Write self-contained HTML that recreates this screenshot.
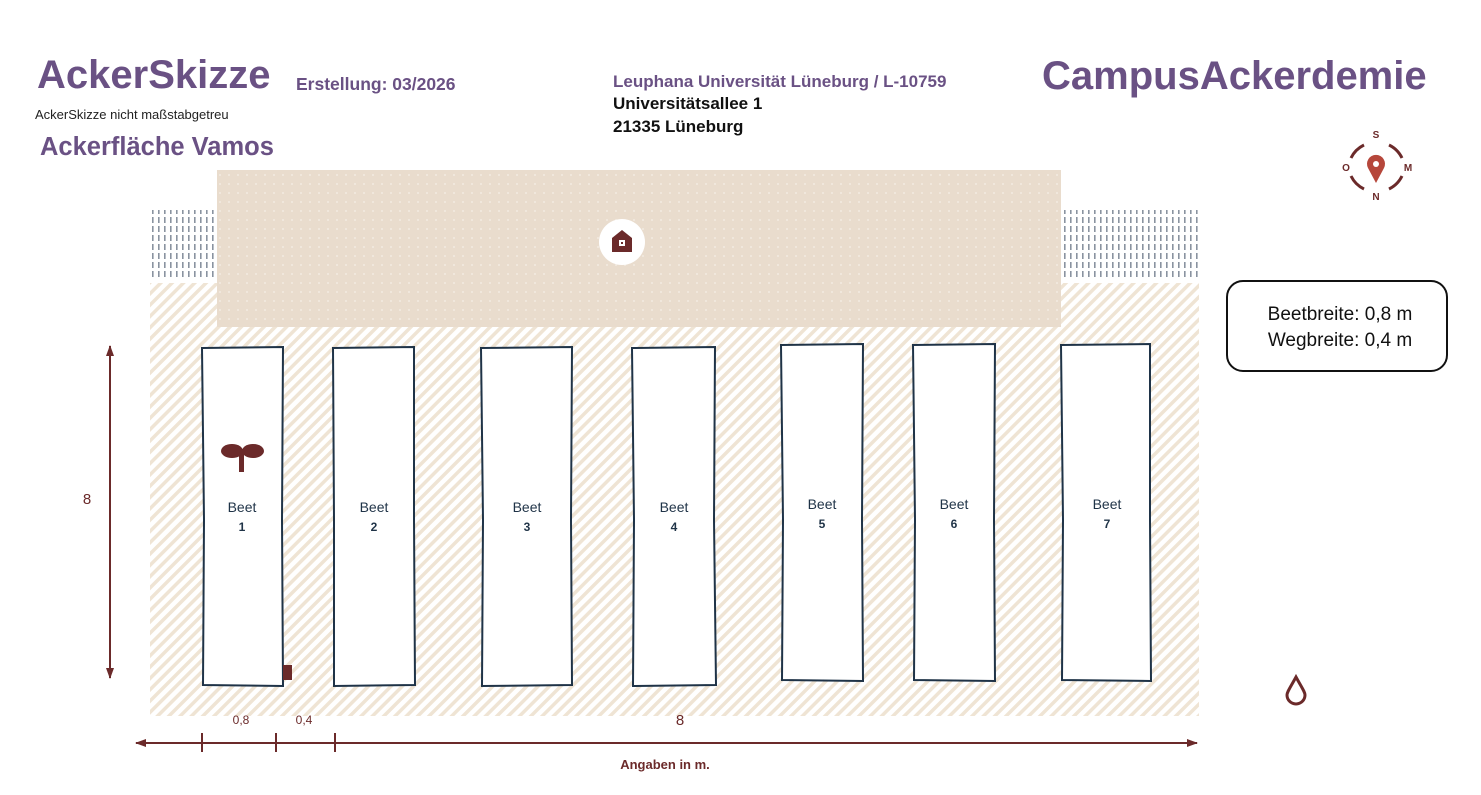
<!DOCTYPE html>
<html><head><meta charset="utf-8"><style>
body{margin:0;width:1481px;height:795px;background:#fff;position:relative;overflow:hidden;font-family:"Liberation Sans",sans-serif}
.t{position:absolute;white-space:nowrap}
.p{color:#6a5184;font-weight:bold}
</style></head><body>
<div class="t p" style="left:37px;top:53px;font-size:40px">AckerSkizze</div>
<div class="t p" style="left:296px;top:74px;font-size:17.5px">Erstellung: 03/2026</div>
<div class="t" style="left:35px;top:107px;font-size:13px;color:#222">AckerSkizze nicht maßstabgetreu</div>
<div class="t p" style="left:40px;top:133px;font-size:25.5px">Ackerfläche Vamos</div>
<div class="t p" style="left:613px;top:72px;font-size:17px">Leuphana Universität Lüneburg / L-10759</div>
<div class="t" style="left:613px;top:94px;font-size:17px;font-weight:bold;color:#111">Universitätsallee 1</div>
<div class="t" style="left:613px;top:117px;font-size:17px;font-weight:bold;color:#111">21335 Lüneburg</div>
<div class="t p" style="left:1042px;top:54px;font-size:40px">CampusAckerdemie</div>
<svg width="1481" height="795" style="position:absolute;left:0;top:0">
<defs>
<pattern id="h" width="8" height="8" patternUnits="userSpaceOnUse" patternTransform="rotate(45)"><rect width="8" height="8" fill="#fff"/><rect width="3.5" height="8" fill="#efe4d4"/></pattern>
<pattern id="d" width="9" height="9" patternUnits="userSpaceOnUse"><rect width="9" height="9" fill="#e9dccd"/><circle cx="4" cy="4" r="1" fill="#f2ebe1"/></pattern>
<pattern id="v" width="6" height="9" patternUnits="userSpaceOnUse"><rect width="6" height="9" fill="#fff"/><rect x="2" y="1" width="1.6" height="6" fill="#8a93a0"/></pattern>
<marker id="a" markerWidth="12" markerHeight="12" refX="10" refY="5" orient="auto-start-reverse" markerUnits="userSpaceOnUse"><path d="M0,1 L11,5 L0,9 Z" fill="#6b2a2a"/></marker>
</defs>
<rect x="150" y="210" width="67" height="70" fill="url(#v)"/>
<rect x="1061" y="210" width="138" height="70" fill="url(#v)"/>
<rect x="150" y="283" width="1049" height="433" fill="url(#h)"/>
<rect x="217" y="170" width="844" height="157" fill="url(#d)"/>
<circle cx="622" cy="242" r="23" fill="#fff"/>
<path d="M612,238 L622,230 L632,238 L632,252 L612,252 Z" fill="#6b2a2a"/>
<rect x="619" y="240" width="6" height="6" fill="#fff"/><rect x="621" y="242" width="2" height="2" fill="#6b2a2a"/>
<g fill="#fff" stroke="#1f3347" stroke-width="2">
<path d="M202,348 L283,347 L282,520 L283,686 L203,685 L204,520 Z"/>
<path d="M333,348 L414,347 L414,520 L415,685 L334,686 L334,520 Z"/>
<path d="M481,348 L572,347 L571,520 L572,685 L482,686 L483,520 Z"/>
<path d="M632,348 L715,347 L714,520 L716,685 L633,686 L634,520 Z"/>
<path d="M781,345 L863,344 L862,520 L863,681 L782,680 L783,520 Z"/>
<path d="M913,345 L995,344 L994,520 L995,681 L914,680 L915,520 Z"/>
<path d="M1061,345 L1150,344 L1150,520 L1151,681 L1062,680 L1063,520 Z"/>
</g>
<g font-size="14" fill="#1f3347" text-anchor="middle">
<text x="242" y="512">Beet</text><text x="242" y="531" font-weight="bold" font-size="12">1</text>
<text x="374" y="512">Beet</text><text x="374" y="531" font-weight="bold" font-size="12">2</text>
<text x="527" y="512">Beet</text><text x="527" y="531" font-weight="bold" font-size="12">3</text>
<text x="674" y="512">Beet</text><text x="674" y="531" font-weight="bold" font-size="12">4</text>
<text x="822" y="509">Beet</text><text x="822" y="528" font-weight="bold" font-size="12">5</text>
<text x="954" y="509">Beet</text><text x="954" y="528" font-weight="bold" font-size="12">6</text>
<text x="1107" y="509">Beet</text><text x="1107" y="528" font-weight="bold" font-size="12">7</text>
</g>
<g fill="#6b2a2a">
<ellipse cx="232" cy="451" rx="11" ry="7"/><ellipse cx="253" cy="451" rx="11" ry="7"/><rect x="239" y="452" width="5" height="20"/>
<rect x="283" y="665" width="9" height="15"/>
<path d="M1296,677 C1290,688 1287,692 1287,695 a9,9 0 0 0 18,0 C1305,692 1302,688 1296,677 Z" fill="none" stroke="#6b2a2a" stroke-width="3"/>
</g>
<line x1="110" y1="346" x2="110" y2="678" stroke="#6b2a2a" stroke-width="2" marker-start="url(#a)" marker-end="url(#a)"/>
<line x1="136" y1="743" x2="1197" y2="743" stroke="#6b2a2a" stroke-width="2" marker-start="url(#a)" marker-end="url(#a)"/>
<g stroke="#6b2a2a" stroke-width="2"><line x1="202" y1="733" x2="202" y2="752"/><line x1="276" y1="733" x2="276" y2="752"/><line x1="335" y1="733" x2="335" y2="752"/></g>
<g fill="#6b2a2a" text-anchor="middle">
<text x="87" y="504" font-size="15">8</text>
<text x="241" y="724" font-size="12">0,8</text><text x="304" y="724" font-size="12">0,4</text>
<text x="680" y="725" font-size="15">8</text>
<text x="665" y="769" font-size="13" font-weight="bold">Angaben in m.</text>
</g>
<rect x="1227" y="281" width="220" height="90" rx="16" fill="#fff" stroke="#111" stroke-width="2"/>
<text x="1340" y="320" font-size="19" text-anchor="middle" fill="#111">Beetbreite: 0,8 m</text>
<text x="1340" y="346" font-size="19" text-anchor="middle" fill="#111">Wegbreite: 0,4 m</text>
<g stroke="#6b2a2a" stroke-width="3" fill="none">
<path d="M1364,145 A28,28 0 0 0 1351,158"/><path d="M1389,145 A28,28 0 0 1 1402,158"/>
<path d="M1351,176 A28,28 0 0 0 1364,189"/><path d="M1389,189 A28,28 0 0 0 1402,176"/>
</g>
<g fill="#6b2a2a" font-size="10" font-weight="bold" text-anchor="middle">
<text x="1376" y="138">S</text><text x="1376" y="200">N</text><text x="1346" y="171">O</text><text x="1408" y="171">M</text>
</g>
<path d="M1376,183 L1368,168 a9,9 0 1 1 16,0 Z" fill="#b6473b"/><circle cx="1376" cy="164" r="3" fill="#fff"/>
</svg>
</body></html>
